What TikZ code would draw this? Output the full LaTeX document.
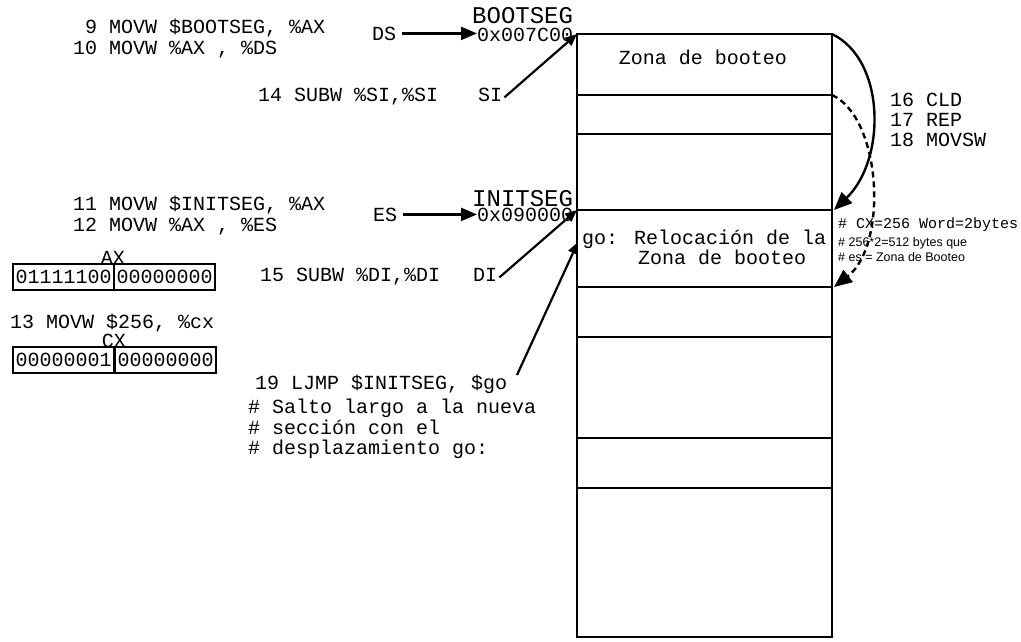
\documentclass[tikz,border=0pt]{standalone}
\usepackage{fontspec}
\newfontfamily\monof{Liberation Mono}
\newfontfamily\sansf{Liberation Sans}
\usetikzlibrary{arrows.meta}
\tikzset{
  code/.style={font=\monof\fontsize{20}{20}\selectfont, inner sep=0pt, anchor=base west},
  big/.style={font=\monof\fontsize{24}{24}\selectfont, inner sep=0pt, anchor=base west},
  smallcode/.style={font=\monof\fontsize{15}{15}\selectfont, inner sep=0pt, anchor=base west},
  note/.style={font=\sansf\fontsize{12.5}{12.5}\selectfont, inner sep=0pt, anchor=base west},
  bitbox/.style={draw, line width=2.2pt, font=\monof\fontsize{20}{20}\selectfont, inner sep=0pt, minimum width=101pt, minimum height=26pt, anchor=north west},
  mem/.style={line width=2.4pt},
  ptr/.style={line width=2.2pt, -{Triangle[length=16pt,width=13pt]}},
  ptrs/.style={line width=2.2pt, -{Triangle[length=12pt,width=10pt]}},
  copyarc/.style={line width=2.4pt, -{Triangle[length=18pt,width=15pt]}},
  copydash/.style={line width=2.4pt, dash pattern=on 6pt off 4pt, -{Triangle[length=18pt,width=15pt]}}
}
\begin{document}
\begin{tikzpicture}[x=1pt,y=-1pt]
\useasboundingbox (0,0) rectangle (1021,641);
% memory column
\coordinate (m0) at (577,34);
\coordinate (m0r) at (832,34);
\coordinate (m1r) at (832,95);
\coordinate (m3) at (577,210);
\coordinate (m3r) at (832,210);
\coordinate (m4r) at (832,287);
\coordinate (mb) at (832,637);
\draw[mem] (m0) rectangle (mb);
\foreach \yy in {95,134,210,287,337,438,488} \draw[mem] (577,\yy) -- (832,\yy);
% code lines
\node[code] (l9) at (85,33) {9 MOVW \$BOOTSEG, \%AX};
\node[code] (l10) at (73,54) {10 MOVW \%AX , \%DS};
\node[code] (l14) at (258,101) {14 SUBW \%SI,\%SI};
\node[code] (si) at (478,101) {SI};
\node[code] (ds) at (372,40) {DS};
\node[big] (bootseg) at (472,23) {BOOTSEG};
\node[code] (hex1) at (477,41) {0x007C00};
\node[code] (l11) at (73,210) {11 MOVW \$INITSEG, \%AX};
\node[code] (l12) at (73,231) {12 MOVW \%AX , \%ES};
\node[code] (es) at (373,221) {ES};
\node[big] (initseg) at (472,206) {INITSEG};
\node[code] (hex2) at (477,221) {0x090000};
\node[code] (l15) at (260,281) {15 SUBW \%DI,\%DI};
\node[code] (di) at (473,281) {DI};
% registers
\node[code, anchor=base] (axl) at (113,264) {AX};
\node[bitbox] (ax1) at (12,263) {01111100};
\node[bitbox] (ax2) at (113,263) {00000000};
\node[code] (l13) at (10,328) {13 MOVW \$256, \%cx};
\node[code, anchor=base] (cxl) at (114,347) {CX};
\node[bitbox] (cx1) at (12,346) {00000001};
\node[bitbox] (cx2) at (114,346) {00000000};
% memory labels
\node[code, anchor=center] (zb) at (703,57) {Zona de booteo};
\node[code] (go1) at (582,244) {go: Relocación de la};
\node[code] (go2) at (638,264) {Zona de booteo};
% right side
\node[code] (l16) at (890,106) {16 CLD};
\node[code] (l17) at (890,126) {17 REP};
\node[code] (l18) at (890,146) {18 MOVSW};
\node[smallcode] (n1) at (838,228) {\# CX=256 Word=2bytes};
\node[note] (n2) at (838,246) {\# 256*2=512 bytes que};
\node[note] (n3) at (838,261) {\# es = Zona de Booteo};
% jump
\node[code] (l19) at (255,389) {19 LJMP \$INITSEG, \$go};
\node[code] (c1) at (248,413) {\# Salto largo a la nueva};
\node[code] (c2) at (248,434) {\# sección con el};
\node[code] (c3) at (248,454) {\# desplazamiento go:};
\coordinate (gofrom) at (517,375);
\coordinate (goto) at (578,242);
% arrows
\draw[ptr] ([xshift=6pt]ds.east) -- (hex1.west |- ds.east);
\draw[ptr] ([xshift=6pt]es.east) -- (hex2.west |- es.east);
\draw[ptrs] ([xshift=2pt,yshift=-3pt]si.east) -- (m0);
\draw[ptrs] ([xshift=2pt,yshift=-3pt]di.east) -- (m3);
\draw[ptrs] (gofrom) -- (goto);
\draw[copyarc] (m0r) .. controls (886,60) and (886,160) .. ([xshift=2pt]m3r);
\draw[copydash] (m1r) .. controls (882,118) and (888,245) .. ([xshift=2pt]m4r);
\end{tikzpicture}
\end{document}
